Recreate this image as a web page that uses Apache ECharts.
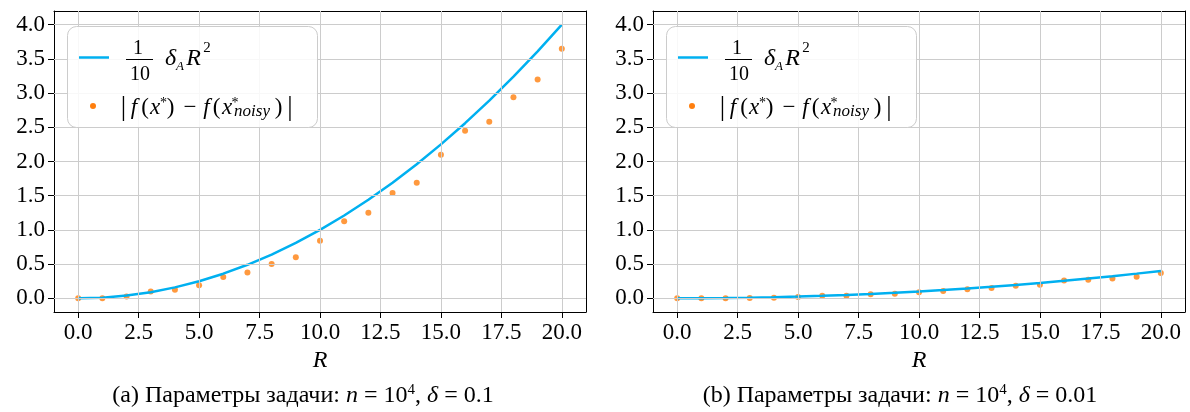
<!DOCTYPE html>
<html><head><meta charset="utf-8">
<script src="https://cdn.jsdelivr.net/npm/echarts@6/dist/echarts.min.js"></script>
<style>html,body{margin:0;padding:0;background:#fff}#c{width:1190px;height:412px}</style>
</head><body><div id="c"></div>
<script>
// ---- data ----
const R = [0,1,2,3,4,5,6,7,8,9,10,11,12,13,14,15,16,17,18,19,20];
const boundA = [0,0.01,0.04,0.09,0.16,0.25,0.36,0.49,0.64,0.81,1.00,1.21,1.44,1.69,1.96,2.25,2.56,2.89,3.24,3.61,4.00];
const errA   = [0,0.00,0.026,0.10,0.124,0.19,0.31,0.376,0.50,0.60,0.84,1.125,1.25,1.54,1.69,2.10,2.45,2.58,2.94,3.20,3.65];
const boundB = [0,0.001,0.004,0.009,0.016,0.025,0.036,0.049,0.064,0.081,0.100,0.121,0.144,0.169,0.196,0.225,0.256,0.289,0.324,0.361,0.400];
const errB   = [0,0.00,0.00,0.005,0.01,0.019,0.039,0.039,0.058,0.068,0.087,0.107,0.131,0.15,0.184,0.199,0.262,0.272,0.29,0.316,0.37];
const xTicks = [0,2.5,5,7.5,10,12.5,15,17.5,20];
const yTicks = [0,0.5,1,1.5,2,2.5,3,3.5,4];
const captionA = ['(a) Параметры задачи: ', 'n', ' = 10', '4', ', ', 'δ', ' = 0.1'];
const captionB = ['(b) Параметры задачи: ', 'n', ' = 10', '4', ', ', 'δ', ' = 0.01'];

// ---- styles ----
const SERIF = '"Liberation Serif", "DejaVu Serif", serif';
const BLUE = '#00b0f0', ORANGE = '#ff7f0e';
const TICK_FONT = 23;

function xAxisCfg(idx){
  return {
    type:'value', gridIndex: idx, min:-1, max:21, position:'bottom',
    name:'R', nameLocation:'middle', nameGap:32,
    nameTextStyle:{fontFamily:SERIF, fontStyle:'italic', fontSize:24, color:'#000'},
    axisLine:{show:true, onZero:false, lineStyle:{color:'#000', width:1}},
    axisTick:{show:true, length:6, customValues:xTicks, lineStyle:{color:'#000', width:1}},
    axisLabel:{customValues:xTicks, margin:9, fontFamily:SERIF, fontSize:TICK_FONT, color:'#000',
      formatter:v=>Number(v).toFixed(1)},
    splitLine:{show:false}
  };
}
function xAxisTop(idx){
  return {type:'value', gridIndex: idx, min:-1, max:21, position:'top',
    axisLine:{show:true, onZero:false, lineStyle:{color:'#000', width:1}},
    axisTick:{show:false}, axisLabel:{show:false}, splitLine:{show:false}};
}
function yAxisCfg(idx){
  return {
    type:'value', gridIndex: idx, min:-0.2, max:4.2, position:'left',
    axisLine:{show:true, onZero:false, lineStyle:{color:'#000', width:1}},
    axisTick:{show:true, length:6, customValues:yTicks, lineStyle:{color:'#000', width:1}},
    axisLabel:{customValues:yTicks, margin:9, fontFamily:SERIF, fontSize:TICK_FONT, color:'#000',
      formatter:v=>Number(v).toFixed(1)},
    splitLine:{show:false}
  };
}
function yAxisRight(idx){
  return {type:'value', gridIndex: idx, min:-0.2, max:4.2, position:'right',
    axisLine:{show:true, onZero:false, lineStyle:{color:'#000', width:1}},
    axisTick:{show:false}, axisLabel:{show:false}, splitLine:{show:false}};
}
function gridSeries(idx){
  return {
    type:'line', xAxisIndex:idx, yAxisIndex:idx, data:[], z:1, silent:true,
    markLine:{silent:true, symbol:['none','none'], label:{show:false}, animation:false,
      lineStyle:{color:'#cccccc', width:1, type:'solid'},
      emphasis:{disabled:true},
      data:[...xTicks.map(v=>({xAxis:v})), ...yTicks.map(v=>({yAxis:v}))]}
  };
}
function pairs(xs, ys){ return xs.map((x,i)=>[x, ys[i]]); }

function legend(dx){
  const t = (text, x, y, size, italic) => ({
    type:'text', z:101, silent:true,
    style:{text, x:x+dx, y, font:(italic?'italic ':'')+size+'px '+SERIF, fill:'#000',
      textAlign:'center', textVerticalAlign:'middle', verticalAlign:'middle', align:'center'}
  });
  return [
    {type:'rect', z:100, silent:true, shape:{x:67.5+dx, y:26.5, width:250, height:101, r:9},
      style:{fill:'rgba(255,255,255,0.85)', stroke:'#cccccc', lineWidth:1}},
    {type:'line', z:101, silent:true, shape:{x1:79+dx, y1:57.5, x2:109+dx, y2:57.5},
      style:{stroke:BLUE, lineWidth:2.5}},
    t('1', 138, 48.5, 20, false),
    {type:'line', z:101, silent:true, shape:{x1:126+dx, y1:59.5, x2:153+dx, y2:59.5},
      style:{stroke:'#000', lineWidth:1}},
    t('10', 140, 75, 20, false),
    t('δ', 170.5, 58.6, 24, true),
    t('A', 180, 67, 13, true),
    t('R', 193.5, 58.6, 24, true),
    t('2', 207, 48.5, 15, false),
    {type:'circle', z:101, silent:true, shape:{cx:93+dx, cy:106, r:3}, style:{fill:ORANGE}},
    t('|', 123.5, 108, 27, false),
    t('f', 134, 107.6, 23, true),
    t('(', 145, 107.6, 23, false),
    t('x', 155, 107.6, 23, true),
    t('*', 163.5, 103, 14, false),
    t(')', 170.5, 107.6, 23, false),
    t('−', 190, 107.6, 23, false),
    t('f', 206.5, 107.6, 23, true),
    t('(', 216.5, 107.6, 23, false),
    t('x', 227, 107.6, 23, true),
    t('*', 235, 103, 14, false),
    t('noisy', 252, 112, 17, true),
    t(')', 278.5, 107.6, 23, false),
    t('|', 290, 108, 27, false)
  ];
}
function caption(parts, x){
  const keys = ['r','i','r','s','r','i','r'];
  const text = parts.map((p,i)=>'{'+keys[i]+'|'+p+'}').join('');
  return {type:'text', z:50, silent:true,
    style:{text, x, y:396, textAlign:'center', textVerticalAlign:'middle', align:'center', verticalAlign:'middle',
      rich:{
        r:{fontFamily:SERIF, fontSize:24, color:'#000', lineHeight:26},
        i:{fontFamily:SERIF, fontSize:24, fontStyle:'italic', color:'#000', lineHeight:26},
        s:{fontFamily:SERIF, fontSize:15, color:'#000', lineHeight:15, verticalAlign:'top'}
      }}};
}

const chart = echarts.init(document.getElementById('c'), null, {renderer:'canvas'});
chart.setOption({
  animation:false,
  backgroundColor:'#fff',
  grid:[
    {left:54, right:604, top:11, bottom:100},
    {left:653, right:5, top:11, bottom:100}
  ],
  xAxis:[xAxisCfg(0), xAxisCfg(1), xAxisTop(0), xAxisTop(1)],
  yAxis:[yAxisCfg(0), yAxisCfg(1), yAxisRight(0), yAxisRight(1)],
  series:[
    gridSeries(0), gridSeries(1),
    {type:'scatter', name:'err a', xAxisIndex:0, yAxisIndex:0, data:pairs(R, errA), symbolSize:6, itemStyle:{color:ORANGE}, z:3},
    {type:'line', name:'bound a', xAxisIndex:0, yAxisIndex:0, data:pairs(R, boundA), showSymbol:false, lineStyle:{color:BLUE, width:2.5}, z:4},
    {type:'scatter', name:'err b', xAxisIndex:1, yAxisIndex:1, data:pairs(R, errB), symbolSize:6, itemStyle:{color:ORANGE}, z:3},
    {type:'line', name:'bound b', xAxisIndex:1, yAxisIndex:1, data:pairs(R, boundB), showSymbol:false, lineStyle:{color:BLUE, width:2.5}, z:4}
  ],
  graphic:[...legend(0), ...legend(599), caption(captionA, 303), caption(captionB, 900)]
});
</script>
</body></html>
